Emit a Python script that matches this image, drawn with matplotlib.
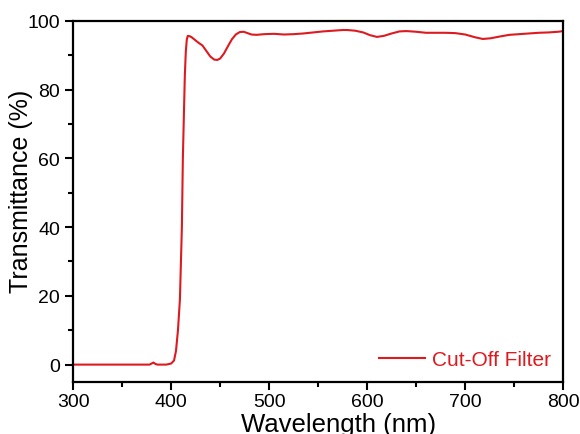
import numpy as np
import matplotlib
matplotlib.use('Agg')
import matplotlib.pyplot as plt
from matplotlib.ticker import MultipleLocator

plt.rcParams['font.family'] = ['Liberation Sans', 'DejaVu Sans']

# 透过率曲线
wavelength = [300, 340, 378, 380, 382, 384, 386, 395, 400, 403, 405, 407, 409, 411,
              412, 413, 414, 415, 416, 417, 419, 421, 424, 428, 432, 436, 440, 444,
              447, 450, 454, 458, 462, 466, 470, 474, 478, 482, 487, 495, 505, 515,
              525, 535, 545, 555, 565, 575, 580, 588, 596, 603, 610, 617, 625, 633,
              640, 650, 660, 670, 680, 690, 700, 710, 718, 726, 735, 745, 755, 765,
              775, 785, 795, 800]
transmittance = [0.0, 0.0, 0.0, 0.3, 0.6, 0.2, 0.0, 0.0, 0.3, 1.2, 4.0, 10.0, 19.0, 40.0,
                 60.0, 72.0, 84.0, 91.0, 94.5, 95.6, 95.5, 95.2, 94.5, 93.6, 92.8, 91.2, 89.6, 88.7,
                 88.6, 89.0, 90.5, 92.6, 94.6, 96.0, 96.7, 96.8, 96.4, 96.0, 95.9, 96.1, 96.2, 96.0,
                 96.1, 96.3, 96.6, 96.9, 97.1, 97.3, 97.3, 97.1, 96.6, 95.8, 95.3, 95.6, 96.3, 96.9,
                 97.0, 96.8, 96.5, 96.5, 96.5, 96.4, 96.0, 95.2, 94.7, 94.9, 95.4, 95.9, 96.1, 96.3,
                 96.5, 96.6, 96.8, 97.0]

fig = plt.figure(figsize=(5.8, 4.35), dpi=100)
ax = fig.add_axes([0.126, 0.12, 0.845, 0.83])

ax.plot(wavelength, transmittance, color='#dd1a1f', linewidth=1.5, label='Cut-Off Filter')

ax.set_xlim(300, 800)
ax.set_ylim(-5, 100)
ax.xaxis.set_major_locator(MultipleLocator(100))
ax.xaxis.set_minor_locator(MultipleLocator(50))
ax.yaxis.set_major_locator(MultipleLocator(20))
ax.yaxis.set_minor_locator(MultipleLocator(10))
ax.tick_params(which='major', direction='out', length=6, width=1.5, labelsize=14)
ax.tick_params(which='minor', direction='out', length=3.5, width=1.5)
ax.tick_params(axis='x', pad=2)
for s in ax.spines.values():
    s.set_linewidth(1.6)

ax.set_xlabel('Wavelength (nm)', fontsize=18.5)
ax.set_ylabel('Transmittance (%)', fontsize=18)
ax.xaxis.set_label_coords(0.541, -0.085)
ax.yaxis.set_label_coords(-0.082, 0.53)

leg = ax.legend(loc='lower right', frameon=False, fontsize=15, handlelength=2.25,
                borderaxespad=0.2, handletextpad=0.3)
for t in leg.get_texts():
    t.set_color('#dd1a1f')

plt.savefig('out.png', dpi=100)
